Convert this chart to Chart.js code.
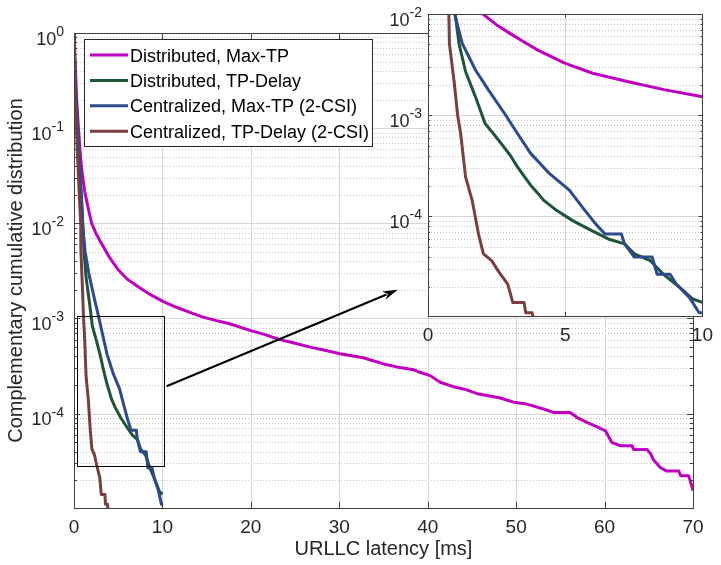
<!DOCTYPE html>
<html><head><meta charset="utf-8">
<script src="https://cdn.jsdelivr.net/npm/chart.js@4/dist/chart.umd.min.js"></script>
<style>
html,body{margin:0;padding:0;background:#fff;}
#wrap{position:relative;width:721px;height:565px;overflow:hidden;}
#main{position:absolute;left:0;top:0;}
#inset{position:absolute;left:380px;top:0;}
</style></head><body>
<div id="wrap">
<canvas id="main" width="721" height="565"></canvas>
<canvas id="inset" width="341" height="350"></canvas>
</div>
<script>
// ---------------- data ----------------
const seriesLabels = ['Distributed, Max-TP', 'Distributed, TP-Delay', 'Centralized, Max-TP (2-CSI)', 'Centralized, TP-Delay (2-CSI)'];
const seriesColors = ['#C000C0', '#1D5537', '#2E4A8C', '#7A3E3E'];

const distMaxTP_x = [0, 0.15, 0.3, 0.5, 0.7, 0.9, 1.2, 1.5, 1.8, 2.0, 2.5, 3.0, 3.5, 4.0, 5.0, 6.0, 7.3, 8.6, 10, 11.5, 13.1, 14.5, 16.1, 17.6, 19.9, 21.5, 23.3, 25, 26.7, 28.5, 30.1, 32.7, 35, 36.5, 38.4, 39.1, 40.3, 41.4, 42.9, 44.4, 45.6, 46.7, 48.2, 49.7, 51.2, 53.1, 54.2, 56.1, 56.9, 58, 59.1, 60.1, 60.8, 61.8, 63.1, 63.3, 64.8, 65.2, 65.5, 66.3, 67.0, 68.4, 68.6, 69.5, 69.8, 70];
const distMaxTP_y = [1, 0.45, 0.2, 0.1, 0.055, 0.035, 0.022, 0.016, 0.012, 0.0100, 0.0078, 0.0064, 0.0053, 0.0044, 0.00325, 0.0026, 0.00214, 0.00179, 0.00152, 0.00132, 0.00116, 0.00104, 0.00095, 0.00088, 0.00075, 0.00068, 0.0006, 0.00055, 0.0005, 0.00046, 0.000427, 0.000387, 0.000333, 0.00031, 0.00029, 0.000272, 0.000251, 0.000214, 0.000192, 0.000178, 0.000162, 0.000155, 0.000146, 0.000132, 0.000126, 0.000112, 0.000103, 0.000103, 0.000091, 0.000081, 0.000073, 0.000066, 0.00005, 0.000046, 0.000046, 0.000042, 0.000042, 0.000038, 0.000033, 0.0000272, 0.000025, 0.000025, 0.0000223, 0.0000223, 0.0000182, 0.0000155];

const distTPDelay_x = [0, 0.05, 0.15, 0.3, 0.5, 0.7, 0.85, 0.99, 1.13, 1.37, 1.73, 2.08, 2.4, 2.67, 3.0, 3.26, 3.5, 3.74, 4.0, 4.21, 4.68, 5.27, 5.86, 6.57, 7.16, 7.52, 8.1, 8.58, 9.17, 9.65, 10];
const distTPDelay_y = [1, 0.6, 0.3, 0.15, 0.065, 0.03, 0.018, 0.01, 0.0051, 0.00269, 0.00152, 0.00083, 0.00065, 0.000525, 0.0004, 0.000309, 0.00025, 0.000204, 0.00017, 0.000145, 0.000115, 0.000091, 0.000075, 0.00006, 0.0000537, 0.0000427, 0.0000366, 0.0000269, 0.00002, 0.0000153, 0.0000142];

const centMaxTP_x = [0, 0.05, 0.15, 0.3, 0.5, 0.7, 0.85, 0.97, 1.25, 1.73, 2.2, 2.79, 3.26, 3.74, 4.44, 5.15, 5.63, 6.1, 6.45, 7.05, 7.16, 7.52, 8.17, 8.35, 8.82, 9.05, 9.53, 9.88, 10];
const centMaxTP_y = [1, 0.6, 0.3, 0.15, 0.065, 0.03, 0.018, 0.01, 0.0051, 0.0028, 0.00178, 0.00104, 0.00066, 0.00042, 0.000263, 0.000182, 0.000123, 0.000085, 0.000067, 0.000067, 0.0000537, 0.0000397, 0.0000397, 0.0000269, 0.0000269, 0.0000214, 0.0000158, 0.0000112, 0.0000112];

const centTPDelay_x = [0, 0.03, 0.1, 0.25, 0.4, 0.55, 0.66, 0.76, 0.78, 0.96, 1.08, 1.19, 1.37, 1.61, 1.84, 2.02, 2.32, 2.55, 2.91, 3.09, 3.5, 3.56, 3.79, 3.85];
const centTPDelay_y = [1, 0.7, 0.35, 0.12, 0.05, 0.025, 0.015, 0.01, 0.0051, 0.00206, 0.001, 0.00066, 0.000245, 0.000144, 0.000067, 0.0000427, 0.0000366, 0.0000292, 0.0000214, 0.0000141, 0.0000141, 0.0000112, 0.0000112, 0.0000098];

const mainXTicks = [0, 10, 20, 30, 40, 50, 60, 70];
const insetXTicks = [0, 5, 10];
const mainYDecades = [0, -1, -2, -3, -4];
const insetYDecades = [-2, -3, -4];

// zoom-box annotation (data coords) and arrow
const zoomBoxX = [0.35, 10.2];
const zoomBoxY = [2.84e-5, 1.06e-3];
const arrowFrom = [10.47, 1.94e-4];
const arrowTo = [36.6, 2.0e-3];

// ---------------- helpers ----------------
const FONT = '"Liberation Sans", Arial, Helvetica, sans-serif';
const TXT = '#262626';

function pts(xs, ys) { return xs.map((x, i) => ({x: x, y: ys[i]})); }
const allSeries = [
  pts(distMaxTP_x, distMaxTP_y),
  pts(distTPDelay_x, distTPDelay_y),
  pts(centMaxTP_x, centMaxTP_y),
  pts(centTPDelay_x, centTPDelay_y)
];
function makeDatasets() {
  return allSeries.map((d, i) => ({
    label: seriesLabels[i], data: d, borderColor: seriesColors[i], backgroundColor: seriesColors[i],
    borderWidth: 3, pointRadius: 0, tension: 0, fill: false, order: 3 - i,
    borderJoinStyle: 'round', borderCapStyle: 'butt'
  }));
}
function logTicks(min, max) {
  const t = [];
  for (let d = Math.floor(Math.log10(min)) - 1; d <= Math.ceil(Math.log10(max)); d++) {
    for (let m = 1; m <= 9; m++) {
      const v = m * Math.pow(10, d);
      if (v >= min * 0.9999 && v <= max * 1.0001) t.push({value: v, major: m === 1});
    }
  }
  return t;
}

function drawFrame(chart, o) {
  const {ctx, chartArea: a} = chart;
  const xs = chart.scales.x, ys = chart.scales.y;
  ctx.save();
  ctx.lineWidth = 1;
  ctx.strokeStyle = '#404040';
  ctx.beginPath();
  ys.ticks.forEach(t => {
    const py = Math.round(ys.getPixelForValue(t.value)) + 0.5;
    const L = t.major ? o.tickLen : o.tickLen / 2;
    ctx.moveTo(a.left, py); ctx.lineTo(a.left + L, py);
    ctx.moveTo(a.right, py); ctx.lineTo(a.right - L, py);
  });
  o.xTicks.forEach(v => {
    const px = Math.round(xs.getPixelForValue(v)) + 0.5;
    ctx.moveTo(px, a.bottom); ctx.lineTo(px, a.bottom - o.tickLen);
    ctx.moveTo(px, a.top); ctx.lineTo(px, a.top + o.tickLen);
  });
  ctx.stroke();
  ctx.strokeStyle = '#404040';
  ctx.strokeRect(Math.round(a.left) + 0.5, Math.round(a.top) + 0.5, Math.round(a.right - a.left), Math.round(a.bottom - a.top));
  ctx.fillStyle = TXT; ctx.textAlign = 'left'; ctx.textBaseline = 'alphabetic';
  o.yDecades.forEach(d => {
    const py = ys.getPixelForValue(Math.pow(10, d));
    const base = '10', ex = String(d);
    ctx.font = o.baseFont; const wb = ctx.measureText(base).width;
    ctx.font = o.expFont; const we = ctx.measureText(ex).width;
    const x0 = a.left - o.labelGap - wb - we;
    ctx.font = o.baseFont; ctx.fillText(base, x0, py + 11.5);
    ctx.font = o.expFont; ctx.fillText(ex, x0 + wb, py + 3);
  });
  ctx.restore();
}
function drawGrid(chart, o) {
  const {ctx, chartArea: a} = chart;
  const xs = chart.scales.x, ys = chart.scales.y;
  ctx.save();
  ctx.lineWidth = 1;
  ctx.strokeStyle = '#c4c4c4';
  ctx.setLineDash([1, 2]);
  ctx.beginPath();
  ys.ticks.forEach(t => {
    if (t.major) return;
    const py = Math.round(ys.getPixelForValue(t.value)) + 0.5;
    ctx.moveTo(a.left, py); ctx.lineTo(a.right, py);
  });
  ctx.stroke();
  ctx.setLineDash([]);
  ctx.strokeStyle = '#d6d6d6';
  ctx.beginPath();
  ys.ticks.forEach(t => {
    if (!t.major) return;
    const py = Math.round(ys.getPixelForValue(t.value)) + 0.5;
    ctx.moveTo(a.left, py); ctx.lineTo(a.right, py);
  });
  o.xTicks.forEach(v => {
    const px = Math.round(xs.getPixelForValue(v)) + 0.5;
    ctx.moveTo(px, a.top); ctx.lineTo(px, a.bottom);
  });
  ctx.stroke();
  ctx.restore();
}

function baseOptions(o) {
  return {
    responsive: false, animation: false, devicePixelRatio: 1,
    layout: {padding: o.padding},
    plugins: {legend: {display: false}, tooltip: {enabled: false}},
    scales: {
      x: {
        type: 'linear', min: o.xMin, max: o.xMax,
        afterBuildTicks: s => { s.ticks = o.xTicks.map(v => ({value: v})); },
        afterFit: s => { s.height = o.xHeight; },
        grid: {display: false, drawTicks: false},
        border: {display: false},
        ticks: {color: TXT, font: {family: FONT, size: 19}, padding: o.xPad, maxRotation: 0, autoSkip: false},
        title: o.xTitle ? {display: true, text: o.xTitle, color: TXT, font: {family: FONT, size: 20}, padding: {top: 0, bottom: 4}} : {display: false}
      },
      y: {
        type: 'logarithmic', min: o.yMin, max: o.yMax,
        afterBuildTicks: s => { s.ticks = logTicks(o.yMin, o.yMax); },
        afterFit: s => { s.width = o.yWidth; },
        grid: {display: false, drawTicks: false},
        border: {display: false},
        ticks: {display: false},
        title: o.yTitle ? {display: true, text: o.yTitle, color: TXT, font: {family: FONT, size: 20}, padding: {top: 4, bottom: 0}} : {display: false}
      }
    }
  };
}

// ---------------- main chart ----------------
const mainOpts = {
  padding: {top: 33, right: 28, left: 0, bottom: 0},
  xMin: 0, xMax: 70, xTicks: mainXTicks, xHeight: 57, xPad: 8,
  yMin: 1.02e-5, yMax: 1, yWidth: 74,
  xTitle: 'URLLC latency [ms]', yTitle: 'Complementary cumulative distribution',
  yDecades: mainYDecades, tickLen: 6, labelGap: 10,
  baseFont: '18px ' + FONT, expFont: '14px ' + FONT
};
new Chart(document.getElementById('main'), {
  type: 'line',
  data: {datasets: makeDatasets()},
  options: baseOptions(mainOpts),
  plugins: [{
    id: 'mainDecor',
    beforeDatasetsDraw(chart) { drawGrid(chart, mainOpts); },
    afterDatasetsDraw(chart) {
      drawFrame(chart, mainOpts);
      const ctx = chart.ctx, xs = chart.scales.x, ys = chart.scales.y;
      ctx.save();
      const bx0 = xs.getPixelForValue(zoomBoxX[0]), bx1 = xs.getPixelForValue(zoomBoxX[1]);
      const by0 = ys.getPixelForValue(zoomBoxY[1]), by1 = ys.getPixelForValue(zoomBoxY[0]);
      ctx.strokeStyle = '#000'; ctx.lineWidth = 1;
      ctx.strokeRect(Math.round(bx0) + 0.5, Math.round(by0) + 0.5, Math.round(bx1 - bx0), Math.round(by1 - by0));
      const ax0 = xs.getPixelForValue(arrowFrom[0]), ay0 = ys.getPixelForValue(arrowFrom[1]);
      const ax1 = xs.getPixelForValue(arrowTo[0]), ay1 = ys.getPixelForValue(arrowTo[1]);
      const ang = Math.atan2(ay1 - ay0, ax1 - ax0);
      const hl = 15, hw = 4.5;
      ctx.lineWidth = 2;
      ctx.beginPath(); ctx.moveTo(ax0, ay0);
      ctx.lineTo(ax1 - hl * 0.8 * Math.cos(ang), ay1 - hl * 0.8 * Math.sin(ang)); ctx.stroke();
      ctx.fillStyle = '#000';
      ctx.beginPath();
      ctx.moveTo(ax1, ay1);
      ctx.lineTo(ax1 - hl * Math.cos(ang) + hw * Math.sin(ang), ay1 - hl * Math.sin(ang) - hw * Math.cos(ang));
      ctx.lineTo(ax1 - hl * 0.7 * Math.cos(ang), ay1 - hl * 0.7 * Math.sin(ang));
      ctx.lineTo(ax1 - hl * Math.cos(ang) - hw * Math.sin(ang), ay1 - hl * Math.sin(ang) + hw * Math.cos(ang));
      ctx.closePath(); ctx.fill();
      const L = {x: 84, y: 39, w: 288, h: 107};
      ctx.fillStyle = '#fff'; ctx.fillRect(L.x, L.y, L.w, L.h);
      ctx.strokeStyle = '#262626'; ctx.lineWidth = 1;
      ctx.strokeRect(L.x + 0.5, L.y + 0.5, L.w, L.h);
      ctx.font = '18px ' + FONT; ctx.textAlign = 'left'; ctx.textBaseline = 'alphabetic';
      chart.data.datasets.forEach((ds, i) => {
        const ry = 55 + i * 25.4;
        ctx.strokeStyle = ds.borderColor; ctx.lineWidth = 3;
        ctx.beginPath(); ctx.moveTo(90, ry); ctx.lineTo(128, ry); ctx.stroke();
        ctx.fillStyle = '#000';
        ctx.fillText(ds.label, 130, ry + 6.5);
      });
      ctx.restore();
    }
  }]
});

// ---------------- inset chart ----------------
const insetOpts = {
  padding: {top: 14, right: 11, left: 0, bottom: 0},
  xMin: 0, xMax: 10, xTicks: insetXTicks, xHeight: 34, xPad: 8,
  yMin: 1.04e-5, yMax: 1e-2, yWidth: 48,
  xTitle: null, yTitle: null,
  yDecades: insetYDecades, tickLen: 4, labelGap: 6,
  baseFont: '18px ' + FONT, expFont: '14px ' + FONT
};
new Chart(document.getElementById('inset'), {
  type: 'line',
  data: {datasets: makeDatasets()},
  options: baseOptions(insetOpts),
  plugins: [{
    id: 'insetDecor',
    beforeDraw(chart) {
      const {ctx, chartArea: a} = chart;
      ctx.save(); ctx.fillStyle = '#fff';
      ctx.fillRect(a.left, a.top, a.right - a.left, a.bottom - a.top);
      ctx.restore();
    },
    beforeDatasetsDraw(chart) { drawGrid(chart, insetOpts); },
    afterDatasetsDraw(chart) { drawFrame(chart, insetOpts); }
  }]
});
</script>
</body></html>
